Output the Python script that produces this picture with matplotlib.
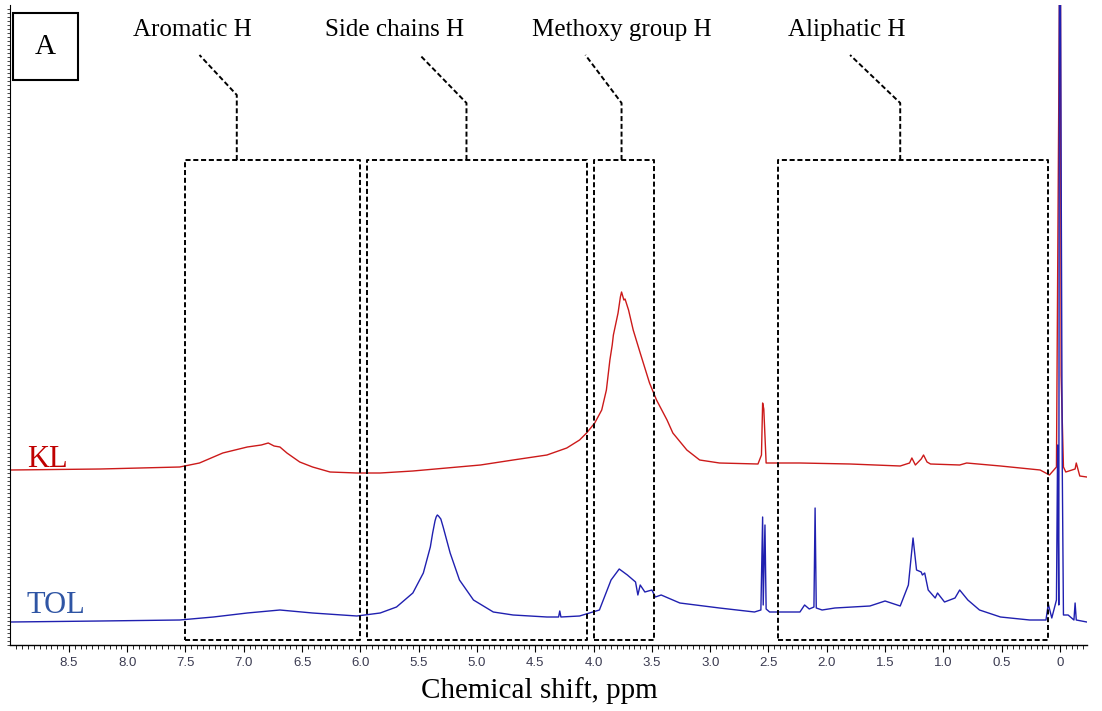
import matplotlib.pyplot as plt
from matplotlib.patches import Rectangle

# chemical shift (ppm) and intensity (arbitrary units)
kl_ppm = [9.00, 8.23, 7.55, 7.38, 7.18, 6.97, 6.85, 6.79, 6.74, 6.69, 6.63, 6.52, 6.41,
          6.26, 6.03, 5.83, 5.55, 5.26, 4.97, 4.69, 4.40, 4.23, 4.12, 4.06, 3.99, 3.93,
          3.89, 3.86, 3.84, 3.83, 3.79, 3.77, 3.76, 3.74, 3.73, 3.70, 3.66, 3.60, 3.52,
          3.46, 3.37, 3.32, 3.20, 3.09, 2.92, 2.59, 2.56, 2.55, 2.54, 2.52, 2.23, 1.80,
          1.37, 1.29, 1.27, 1.24, 1.19, 1.17, 1.14, 1.11, 0.86, 0.80, 0.51, 0.17, 0.09,
          0.03, 0.005, -0.005, -0.01, -0.03, -0.05, -0.13, -0.14, -0.17, -0.23]
kl_int = [175, 176, 178, 182, 192, 198, 200, 202, 199, 198, 192, 183, 178,
          173, 172, 172, 174, 177, 180, 185, 190, 197, 205, 212, 222, 235,
          255, 285, 300, 310, 332, 348, 353, 345, 346, 335, 315, 292, 262,
          245, 225, 212, 195, 185, 182, 181, 190, 242, 236, 182, 182, 181,
          179, 182, 187, 180, 186, 190, 183, 181, 180, 182, 179, 175, 170,
          178, 640, 640, 270, 178, 173, 176, 182, 169, 168]

tol_ppm = [9.00, 8.23, 7.55, 7.26, 6.97, 6.69, 6.41, 6.03, 5.83, 5.69, 5.55, 5.46, 5.40,
           5.38, 5.36, 5.35, 5.34, 5.33, 5.31, 5.29, 5.23, 5.15, 5.03, 4.86, 4.69, 4.40,
           4.30, 4.29, 4.28, 4.12, 3.95, 3.90, 3.85, 3.78, 3.71, 3.64, 3.62, 3.60, 3.56,
           3.50, 3.47, 3.42, 3.26, 2.92, 2.62, 2.565, 2.55, 2.545, 2.53, 2.52, 2.49, 2.23,
           2.19, 2.15, 2.11, 2.10, 2.09, 2.04, 1.93, 1.63, 1.50, 1.37, 1.30, 1.26, 1.23,
           1.19, 1.18, 1.16, 1.13, 1.07, 1.05, 0.99, 0.90, 0.86, 0.79, 0.69, 0.51, 0.26,
           0.12, 0.10, 0.07, 0.03, 0.02, 0.01, 0.005, -0.005, -0.02, -0.03, -0.07, -0.12,
           -0.13, -0.14, -0.23]
tol_int = [23, 24, 25, 28, 32, 35, 32, 29, 32, 38, 52, 72, 98,
           112, 124, 128, 130, 129, 126, 118, 92, 65, 45, 33, 30, 28,
           28, 34, 28, 29, 35, 50, 65, 76, 70, 63, 50, 60, 53,
           55, 48, 50, 42, 37, 33, 35, 128, 40, 120, 36, 33, 33,
           40, 36, 38, 137, 37, 35, 37, 39, 44, 39, 60, 107, 75,
           73, 70, 72, 55, 47, 52, 43, 47, 55, 45, 35, 28, 25,
           25, 41, 27, 45, 200, 40, 640, 640, 175, 30, 30, 25,
           42, 25, 23]

# spectral regions
regions = ["Aromatic H", "Side chains H", "Methoxy group H", "Aliphatic H"]
region_lo = [7.50, 5.94, 4.00, 2.42]
region_hi = [6.00, 4.06, 3.48, 0.10]
label_x = [7.44, 5.71, 3.76, 1.83]
elbow_x = [7.06, 5.09, 3.76, 1.37]
elbow_y = [550, 542, 542, 542]
diag_x = [7.38, 5.49, 4.07, 1.80]

fig = plt.figure(figsize=(11.02, 7.11), dpi=100)
ax = fig.add_axes([10 / 1102, 66 / 711, 1077 / 1102, 640 / 711])

ax.plot(kl_ppm, kl_int, color="#cc1a1a", lw=1.0)
ax.plot(tol_ppm, tol_int, color="#2020b0", lw=1.0)

ax.set_xlim(9.005, -0.232)
ax.set_ylim(0, 640)

dash = dict(color="black", lw=1.4, linestyle=(0, (2.6, 1.4)))
for i, name in enumerate(regions):
    lo, hi = region_lo[i], region_hi[i]
    ax.plot([lo, hi, hi, lo, lo], [5, 5, 485, 485, 5], **dash)
    ax.plot([elbow_x[i], elbow_x[i], diag_x[i]], [485, elbow_y[i], 590], **dash)
    ax.text(label_x[i], 609, name, ha="center", va="baseline",
            family="Liberation Serif", fontsize=18)

ax.add_patch(Rectangle((8.98, 565), -0.56, 67, fill=False, lw=1.5, color="black"))
ax.text(8.70, 598, "A", ha="center", va="center", family="Liberation Serif", fontsize=21)

ax.text(8.86, 178, "KL", color="#c00000", family="Liberation Serif", fontsize=22,
        va="baseline")
ax.text(8.86, 32, "TOL", color="#2f55a4", family="Liberation Serif", fontsize=22,
        va="baseline")

for s in ["top", "right"]:
    ax.spines[s].set_visible(False)
ax.spines["bottom"].set_linewidth(1.0)
ax.spines["left"].set_linewidth(0.8)

ax.set_xticks([8.5, 8.0, 7.5, 7.0, 6.5, 6.0, 5.5, 5.0, 4.5, 4.0, 3.5, 3.0, 2.5, 2.0,
               1.5, 1.0, 0.5, 0.0])
ax.set_xticklabels(["8.5", "8.0", "7.5", "7.0", "6.5", "6.0", "5.5", "5.0", "4.5", "4.0",
                    "3.5", "3.0", "2.5", "2.0", "1.5", "1.0", "0.5", "0"],
                   family="Liberation Sans", fontsize=9.5, color="#3a3a50")
ax.set_xticks([8.95 - 0.05 * k for k in range(184)], minor=True)
ax.tick_params(axis="x", which="major", length=5, width=0.8, pad=4)
ax.tick_params(axis="x", which="minor", length=3, width=0.6)
ax.set_yticks(range(0, 640, 4))
ax.set_yticklabels([])
ax.tick_params(axis="y", which="major", length=2, width=0.5)

fig.text(539 / 1102, 1 - 698 / 711, "Chemical shift, ppm", ha="center", va="baseline",
         family="Liberation Serif", fontsize=21)

fig.savefig("out.png", dpi=100)
